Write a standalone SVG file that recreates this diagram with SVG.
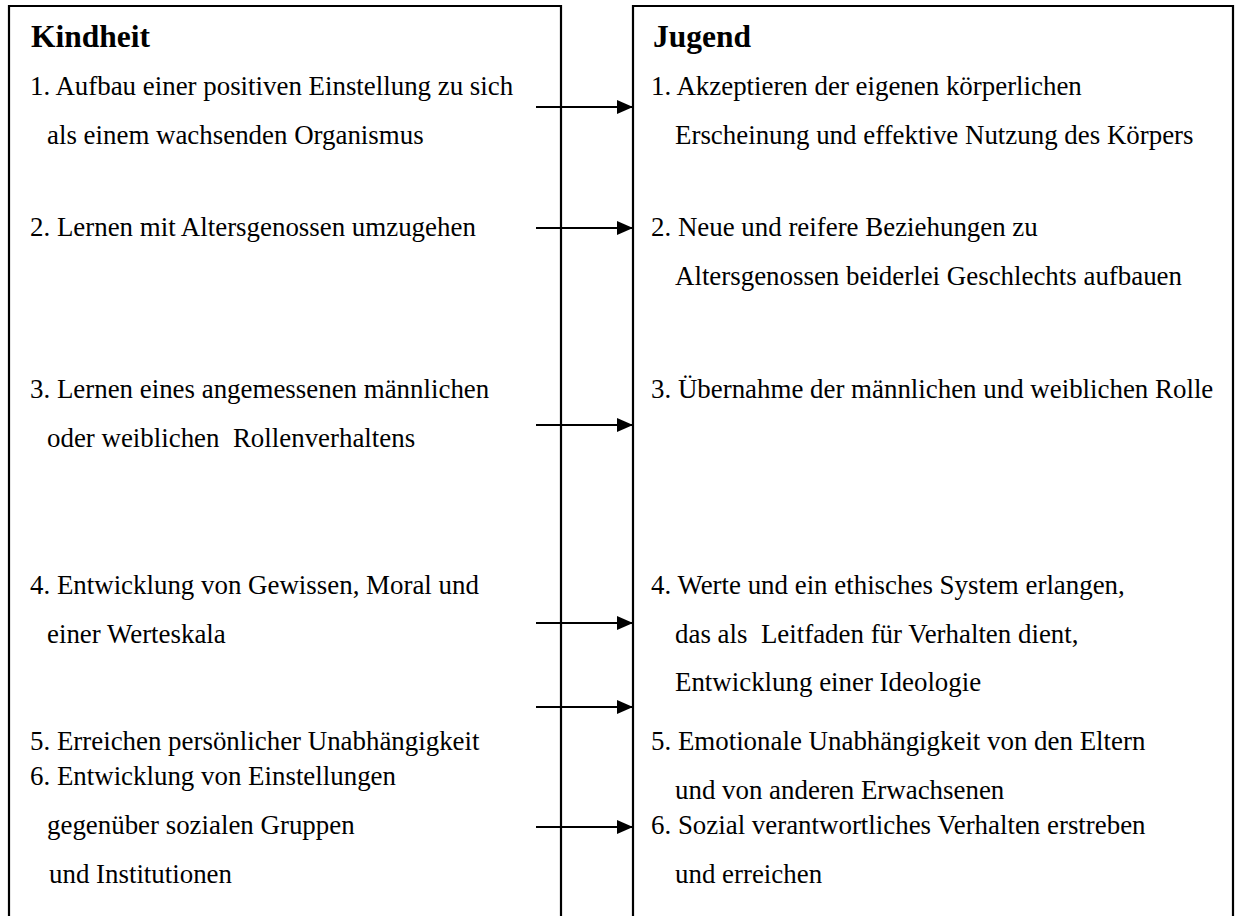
<svg xmlns="http://www.w3.org/2000/svg" width="1235" height="916" viewBox="0 0 1235 916">
<style>
.box{fill:#fff;stroke:#000;stroke-width:2.2}
.h{font-family:"Liberation Serif","Times New Roman",serif;font-size:31.5px;font-weight:bold;fill:#000}
.t{font-family:"Liberation Serif","Times New Roman",serif;font-size:26.9px;fill:#000}
.c{stroke:#000;stroke-width:1.8;fill:none}
</style>
<defs>
<marker id="ah" viewBox="0 0 16 14" refX="16" refY="7" markerWidth="16" markerHeight="14" markerUnits="userSpaceOnUse" orient="auto">
<path d="M0,0 L16,7 L0,14 Z" fill="#000"/>
</marker>
</defs>
<g id="kindheit">
<path class="box" d="M9,930 V6 H561 V930"/>
<text class="h" x="31" y="47">Kindheit</text>
<text class="t" x="30" y="95">1. Aufbau einer positiven Einstellung zu sich</text>
<text class="t" x="47" y="144">als einem wachsenden Organismus</text>
<text class="t" x="30" y="236">2. Lernen mit Altersgenossen umzugehen</text>
<text class="t" x="30" y="398">3. Lernen eines angemessenen männlichen</text>
<text class="t" x="47" y="447" xml:space="preserve">oder weiblichen  Rollenverhaltens</text>
<text class="t" x="30" y="594">4. Entwicklung von Gewissen, Moral und</text>
<text class="t" x="47" y="643">einer Werteskala</text>
<text class="t" x="30" y="750">5. Erreichen persönlicher Unabhängigkeit</text>
<text class="t" x="30" y="785">6. Entwicklung von Einstellungen</text>
<text class="t" x="47" y="834">gegenüber sozialen Gruppen</text>
<text class="t" x="49" y="883">und Institutionen</text>
</g>
<g id="jugend">
<path class="box" d="M633,930 V6 H1233 V930"/>
<text class="h" x="653" y="47">Jugend</text>
<text class="t" x="651" y="95">1. Akzeptieren der eigenen körperlichen</text>
<text class="t" x="675" y="144">Erscheinung und effektive Nutzung des Körpers</text>
<text class="t" x="651" y="236">2. Neue und reifere Beziehungen zu</text>
<text class="t" x="675" y="285">Altersgenossen beiderlei Geschlechts aufbauen</text>
<text class="t" x="651" y="398">3. Übernahme der männlichen und weiblichen Rolle</text>
<text class="t" x="651" y="594">4. Werte und ein ethisches System erlangen,</text>
<text class="t" x="675" y="643" xml:space="preserve">das als  Leitfaden für Verhalten dient,</text>
<text class="t" x="675" y="691">Entwicklung einer Ideologie</text>
<text class="t" x="651" y="750">5. Emotionale Unabhängigkeit von den Eltern</text>
<text class="t" x="675" y="799">und von anderen Erwachsenen</text>
<text class="t" x="651" y="834">6. Sozial verantwortliches Verhalten erstreben</text>
<text class="t" x="675" y="883">und erreichen</text>
</g>
<g id="connectors">
<line class="c" x1="536" y1="107" x2="633" y2="107" marker-end="url(#ah)"/>
<line class="c" x1="536" y1="228" x2="633" y2="228" marker-end="url(#ah)"/>
<line class="c" x1="536" y1="425" x2="633" y2="425" marker-end="url(#ah)"/>
<line class="c" x1="536" y1="623" x2="633" y2="623" marker-end="url(#ah)"/>
<line class="c" x1="536" y1="707" x2="633" y2="707" marker-end="url(#ah)"/>
<line class="c" x1="536" y1="827" x2="633" y2="827" marker-end="url(#ah)"/>
</g>
</svg>
